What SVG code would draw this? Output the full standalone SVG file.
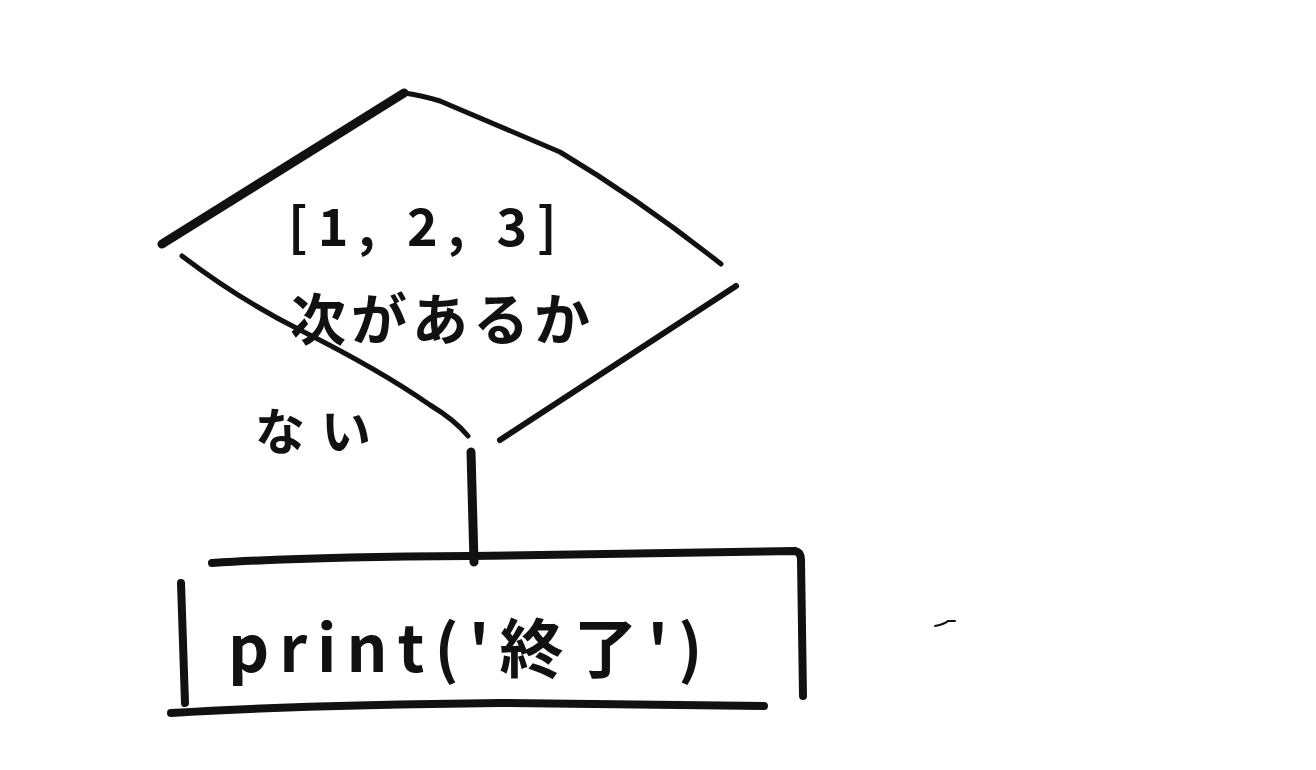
<svg xmlns="http://www.w3.org/2000/svg" width="1316" height="770" viewBox="0 0 1316 770">
<style>
.ln{fill:none;stroke:#111;stroke-linecap:round;stroke-linejoin:round}
.t{font-family:"Noto Sans CJK JP","Liberation Sans",sans-serif;font-weight:bold;fill:#111}
</style>
<rect width="1316" height="770" fill="#fff"/>
<g id="decision">
<path class="ln" stroke-width="9" d="M162,244 L404,93"/>
<path class="ln" stroke-width="5" d="M404,93 Q420,95 440,101 L560,152 Q640,200 721,264"/>
<path class="ln" stroke-width="5" d="M182,256 Q240,300 300,330 Q380,370 430,405 Q455,420 468,436"/>
<path class="ln" stroke-width="6" d="M736,286 L500,440"/>
<text class="t" x="288" y="246" font-size="52" letter-spacing="10">[1, 2, 3]</text>
<text class="t" x="290" y="340" font-size="56" letter-spacing="5">次があるか</text>
</g>
<g id="process">
<path class="ln" stroke-width="8" d="M212,563 Q300,557 470,556 L795,551 Q801,552 801,560 L803,696"/>
<path class="ln" stroke-width="8" d="M181,583 L185,703"/>
<path class="ln" stroke-width="8" d="M171,713 Q300,705 500,703 L764,706"/>
<text class="t" x="228" y="672" font-size="64" letter-spacing="10">print('終了')</text>
</g>
<g id="connectors">
<path class="ln" stroke-width="9" d="M471,452 L474,562"/>
<text class="t" x="255" y="450" font-size="50" letter-spacing="16">ない</text>
</g>
<path class="ln" stroke-width="2" stroke="#777" d="M935,626 Q945,624 948,621 L955,621"/>
</svg>
